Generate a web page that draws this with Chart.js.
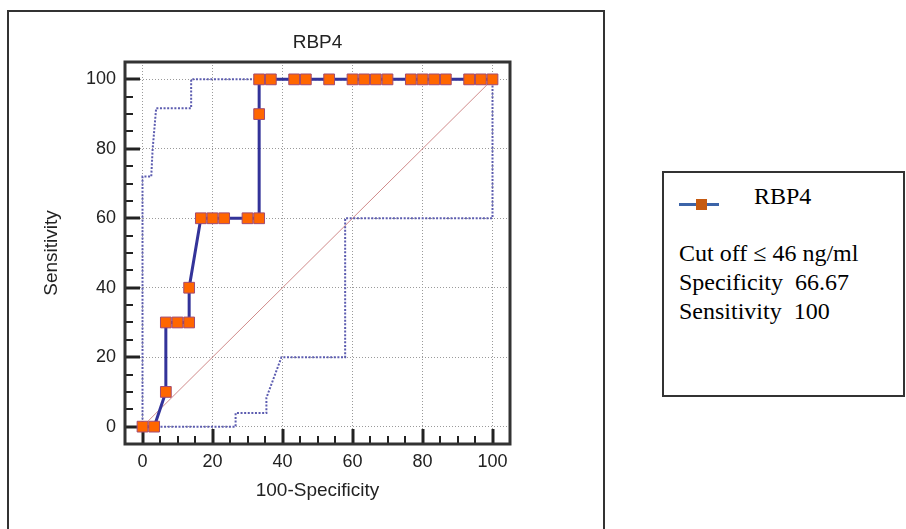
<!DOCTYPE html>
<html><head><meta charset="utf-8">
<script src="https://cdn.jsdelivr.net/npm/chart.js@4.4.0/dist/chart.umd.min.js"></script>
<style>
html,body{margin:0;padding:0;width:906px;height:529px;overflow:hidden;background:#fff;}
#frame{position:absolute;left:7px;top:10px;width:594px;height:560px;border:2px solid #333;}
#c{position:absolute;left:0;top:0;}
#legend{position:absolute;left:662px;top:171px;width:239px;height:222px;border:2px solid #333;font-family:"Liberation Serif","Times New Roman",serif;font-size:24px;color:#000;}
.t{position:absolute;white-space:pre;line-height:29px;}
#lgLine{position:absolute;left:15px;top:30px;width:40px;height:3px;background:#3c64a8;}
#lgBox{position:absolute;left:32px;top:26px;width:11px;height:11px;background:#c55a11;}
</style></head>
<body>
<div id="frame"></div>
<div id="legend">
  <div id="lgLine"></div><div id="lgBox"></div>
  <div class="t" style="left:90px;top:9px;">RBP4</div>
  <div class="t" style="left:15px;top:66px;">Cut off ≤ 46 ng/ml</div>
  <div class="t" style="left:15px;top:95px;">Specificity  66.67</div>
  <div class="t" style="left:15px;top:124px;">Sensitivity  100</div>
</div>
<canvas id="c" width="906" height="529"></canvas>
<script>
// ROC curve points (100-Specificity, Sensitivity)
const rocX = [0, 3.33, 6.67, 6.67, 10, 13.33, 13.33, 16.67, 20, 23.33, 30, 33.33, 33.33, 33.33, 36.67, 43.33, 46.67, 53.33, 60, 63.33, 66.67, 70, 76.67, 80, 83.33, 86.67, 93.33, 96.67, 100];
const rocY = [0, 0, 10, 30, 30, 30, 40, 60, 60, 60, 60, 60, 90, 100, 100, 100, 100, 100, 100, 100, 100, 100, 100, 100, 100, 100, 100, 100, 100];
// 95% confidence bounds
const upperX = [0, 0, 2.5, 2.9, 3.9, 13.9, 13.9, 100];
const upperY = [0, 72, 72, 80, 91.7, 91.7, 100, 100];
const lowerX = [0, 26.6, 26.6, 35.4, 35.4, 39.7, 57.9, 57.9, 100, 100];
const lowerY = [0, 0, 3.9, 3.9, 8.3, 20, 20, 60, 60, 100];
// reference diagonal
const diagX = [0, 100];
const diagY = [0, 100];
// axis ticks
const tickValues = [0, 20, 40, 60, 80, 100];
const minorStep = 5;
const axisMin = -5, axisMax = 105;

const pts = (xs, ys) => xs.map((v, i) => ({x: v, y: ys[i]}));
const FONT = '"Liberation Sans", Arial, sans-serif';

const framePlugin = {
  id: 'frameTicks',
  beforeDatasetsDraw(chart) {
    const {ctx, chartArea: a, scales: {x, y}} = chart;
    ctx.save();
    ctx.strokeStyle = '#222';
    for (let v = 0; v <= 100; v += minorStep) {
      const major = tickValues.includes(v);
      const len = major ? 15 : 8;
      ctx.lineWidth = major ? 3 : 2;
      const px = Math.round(x.getPixelForValue(v));
      ctx.beginPath(); ctx.moveTo(px, a.bottom); ctx.lineTo(px, a.bottom - len); ctx.stroke();
      const py = Math.round(y.getPixelForValue(v));
      ctx.beginPath(); ctx.moveTo(a.left, py); ctx.lineTo(a.left + len, py); ctx.stroke();
    }
    ctx.strokeStyle = '#333';
    ctx.lineWidth = 3;
    ctx.strokeRect(a.left, a.top, a.right - a.left, a.bottom - a.top);
    ctx.restore();
  }
};

new Chart(document.getElementById('c'), {
  type: 'scatter',
  data: {
    datasets: [
      {
        label: 'RBP4',
        data: pts(rocX, rocY),
        showLine: true,
        borderColor: '#333399',
        borderWidth: 3,
        pointStyle: 'rect',
        pointRadius: 7.6,
        pointBackgroundColor: '#ff6600',
        pointBorderColor: '#a04a72',
        pointBorderWidth: 1,
        tension: 0
      },
      {
        label: 'upper',
        data: pts(upperX, upperY),
        showLine: true,
        borderColor: '#5c5cb0',
        borderWidth: 2,
        borderDash: [2, 1.6],
        pointRadius: 0
      },
      {
        label: 'lower',
        data: pts(lowerX, lowerY),
        showLine: true,
        borderColor: '#5c5cb0',
        borderWidth: 2,
        borderDash: [2, 1.6],
        pointRadius: 0
      },
      {
        label: 'diag',
        data: pts(diagX, diagY),
        showLine: true,
        borderColor: '#d08a8a',
        borderWidth: 1,
        pointRadius: 0
      }
    ]
  },
  options: {
    responsive: false,
    animation: false,
    events: [],
    layout: {autoPadding: false, padding: {left: 30, right: 396, top: 20, bottom: 0}},
    plugins: {
      legend: {display: false},
      tooltip: {enabled: false},
      title: {
        display: true, text: 'RBP4', fullSize: false, color: '#222',
        font: {family: FONT, size: 19, weight: 'normal'},
        padding: {top: 11.6, bottom: 7.6}
      }
    },
    scales: {
      x: {
        type: 'linear', min: axisMin, max: axisMax,
        afterBuildTicks: s => { s.ticks = tickValues.map(v => ({value: v})); },
        afterFit: s => { s.height = 85; s.paddingLeft = 0; s.paddingRight = 0; },
        grid: {color: '#9a9a9a', lineWidth: 1, drawTicks: false},
        border: {display: false, dash: [1, 2]},
        ticks: {padding: 7, color: '#222', font: {family: FONT, size: 18}},
        title: {display: true, text: '100-Specificity', color: '#222', font: {family: FONT, size: 19}, padding: {top: 0, bottom: 26.6}}
      },
      y: {
        type: 'linear', min: axisMin, max: axisMax,
        afterBuildTicks: s => { s.ticks = tickValues.map(v => ({value: v})); },
        afterFit: s => { s.width = 95; s.paddingTop = 0; s.paddingBottom = 0; },
        grid: {color: '#9a9a9a', lineWidth: 1, drawTicks: false},
        border: {display: false, dash: [1, 2]},
        ticks: {padding: 9, color: '#222', font: {family: FONT, size: 18}},
        title: {display: true, text: 'Sensitivity', color: '#222', font: {family: FONT, size: 19}, padding: {top: 10.6, bottom: 0}}
      }
    }
  },
  plugins: [framePlugin]
});
</script>
</body></html>
